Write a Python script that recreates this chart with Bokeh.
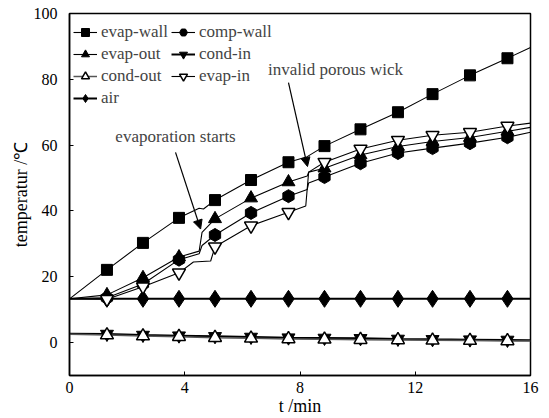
from math import pi

from bokeh.embed import file_html
from bokeh.models import Arrow, Label, Legend, LegendItem, NormalHead, Range1d, FixedTicker, Title
from bokeh.plotting import figure
from bokeh.resources import INLINE

# Sampling instants of the markers (min)
t_mark = [1.3, 2.55, 3.8, 5.05, 6.3, 7.6, 8.85, 10.1, 11.4, 12.6, 13.9, 15.2]

# Marker readings (deg C)
evap_wall = [22.1, 30.3, 37.9, 43.3, 49.4, 54.8, 59.7, 64.8, 70.0, 75.5, 81.2, 86.4]
evap_out = [14.5, 19.7, 26.0, 37.6, 43.9, 48.8, 53.0, 57.0, 59.6, 61.1, 62.3, 64.2]
comp_wall = [13.6, 17.8, 25.2, 32.7, 39.4, 44.5, 50.3, 54.5, 57.6, 59.1, 60.6, 62.4]
evap_in = [13.2, 17.0, 21.2, 29.1, 35.5, 39.6, 54.8, 58.8, 61.5, 63.0, 63.9, 65.8]
cond_in = [2.6, 2.3, 2.1, 1.9, 1.7, 1.5, 1.4, 1.3, 1.1, 1.0, 0.9, 0.8]
cond_out = [2.3, 2.0, 1.8, 1.5, 1.3, 1.1, 1.0, 0.9, 0.8, 0.7, 0.6, 0.5]
air = [13.3, 13.3, 13.3, 13.3, 13.3, 13.3, 13.3, 13.3, 13.3, 13.3, 13.3, 13.3]

# Continuous recordings (time, temperature) between the markers
wall_t = [0, 1.3, 2.55, 3.8, 4.5, 4.65, 5.05, 6.3, 7.6, 8.25, 8.85, 10.1, 11.4, 12.6, 13.9, 15.2, 16]
wall_v = [13.3, 22.1, 30.3, 37.9, 40.8, 40.6, 43.3, 49.4, 54.8, 56.5, 59.7, 64.8, 70.0, 75.5, 81.2, 86.4, 89.7]

out_t = [0, 1.3, 2.55, 3.8, 4.5, 4.6, 5.05, 6.3, 7.6, 8.25, 8.3, 8.85, 10.1, 11.4, 12.6, 13.9, 15.2, 16]
out_v = [13.3, 14.5, 19.7, 26.0, 27.8, 33.5, 37.6, 43.9, 48.8, 50.6, 51.8, 53.0, 57.0, 59.6, 61.1, 62.3, 64.2, 65.4]

comp_t = [0, 1.3, 2.55, 3.8, 4.5, 4.6, 5.05, 6.3, 7.6, 8.25, 8.3, 8.85, 10.1, 11.4, 12.6, 13.9, 15.2, 16]
comp_v = [13.3, 13.6, 17.8, 25.2, 27.0, 29.5, 32.7, 39.4, 44.5, 46.5, 48.5, 50.3, 54.5, 57.6, 59.1, 60.6, 62.4, 63.9]

in_t = [0, 1.3, 2.55, 3.8, 4.3, 4.9, 5.05, 6.3, 7.6, 8.2, 8.3, 8.85, 10.1, 11.4, 12.6, 13.9, 15.2, 16]
in_v = [13.3, 13.2, 17.0, 21.2, 24.5, 24.8, 29.1, 35.5, 39.6, 41.5, 51.8, 54.8, 58.8, 61.5, 63.0, 63.9, 65.8, 66.7]

cin_t = [0] + t_mark + [16]
cin_v = [2.7] + cond_in + [0.7]
cout_t = [0] + t_mark + [16]
cout_v = [2.5] + cond_out + [0.5]
air_t = [0] + t_mark + [16]
air_v = [13.3] + air + [13.3]

x_ticks = [0, 4, 8, 12, 16]
y_ticks = [0, 20, 40, 60, 80, 100]

SERIF = "Liberation Serif"

p = figure(width=549, height=418, output_backend="svg", toolbar_location=None,
           x_range=Range1d(0, 16), y_range=Range1d(-10, 100),
           min_border_left=69, min_border_right=19, min_border_top=13,
           min_border_bottom=42)
p.background_fill_color = "white"
p.border_fill_color = "white"
p.outline_line_color = "black"
p.outline_line_width = 1.5
p.grid.visible = False

for ax in (p.xaxis[0], p.yaxis[0]):
    ax.axis_line_color = "black"
    ax.axis_line_width = 1.5
    ax.major_tick_in = 4
    ax.major_tick_out = 0
    ax.minor_tick_line_color = None
    ax.major_label_text_font = SERIF
    ax.major_label_text_font_size = "16px"
    ax.major_label_text_color = "black"
p.xaxis.ticker = FixedTicker(ticks=x_ticks)
p.yaxis.ticker = FixedTicker(ticks=y_ticks)
p.xaxis.major_label_standoff = 6
p.yaxis.major_label_standoff = 12

p.xaxis.axis_label = "t /min"
p.xaxis.axis_label_text_font = SERIF
p.xaxis.axis_label_text_font_size = "18px"
p.xaxis.axis_label_text_font_style = "normal"
p.xaxis.axis_label_text_color = "black"
p.xaxis.axis_label_standoff = 0

# Vertical title beside the temperature axis
p.add_layout(Title(text="temperatur /℃", align="center", offset=0,
                   text_font=SERIF, text_font_size="18px", text_font_style="normal",
                   text_color="black", standoff=0), "left")

# Curves
lw = 1.1
r_wall_l = p.line(wall_t, wall_v, line_color="black", line_width=lw)
r_out_l = p.line(out_t, out_v, line_color="black", line_width=lw)
r_comp_l = p.line(comp_t, comp_v, line_color="black", line_width=lw)
r_in_l = p.line(in_t, in_v, line_color="black", line_width=lw)
r_cin_l = p.line(cin_t, cin_v, line_color="black", line_width=2)
r_cout_l = p.line(cout_t, cout_v, line_color="#555555", line_width=1.5)
r_air_l = p.line(air_t, air_v, line_color="black", line_width=2)

# Markers
r_air = p.scatter(t_mark, air, marker="diamond", size=17, fill_color="black", line_color="black")
r_wall = p.scatter(t_mark, evap_wall, marker="square", size=11, fill_color="black", line_color="black")
r_comp = p.scatter(t_mark, comp_wall, marker="hex", size=13, fill_color="black", line_color="black", angle=pi / 6)
r_out = p.scatter(t_mark, evap_out, marker="triangle", size=13, fill_color="black", line_color="black")
r_in = p.scatter(t_mark, evap_in, marker="inverted_triangle", size=13, fill_color="white", line_color="black", line_width=1.5)
r_cin = p.scatter(t_mark, cond_in, marker="inverted_triangle", size=13, fill_color="black", line_color="black")
r_cout = p.scatter(t_mark, cond_out, marker="triangle", size=13, fill_color="white", line_color="black", line_width=1.5)

def legend(items, loc):
    lg = Legend(items=items, location=loc, orientation="vertical",
                label_text_font=SERIF, label_text_font_size="17px",
                label_height=20, glyph_height=20, glyph_width=24, label_standoff=4,
                spacing=2, padding=0, margin=0,
                border_line_color=None, background_fill_alpha=0)
    return lg

col1 = legend([
    LegendItem(label="evap-wall", renderers=[r_wall_l, r_wall]),
    LegendItem(label="evap-out", renderers=[r_out_l, r_out]),
    LegendItem(label="cond-out", renderers=[r_cout_l, r_cout]),
    LegendItem(label="air", renderers=[r_air_l, r_air]),
], (4, 267))
col2 = legend([
    LegendItem(label="comp-wall", renderers=[r_comp_l, r_comp]),
    LegendItem(label="cond-in", renderers=[r_cin_l, r_cin]),
    LegendItem(label="evap-in", renderers=[r_in_l, r_in]),
], (102, 289))
p.add_layout(col1)
p.add_layout(col2)

# Annotations
p.add_layout(Label(x=3.68, y=62.5, text="evaporation starts", text_font=SERIF,
                   text_font_size="17px", text_align="center", text_baseline="middle"))
p.add_layout(Arrow(x_start=3.68, y_start=57.8, x_end=4.55, y_end=34.5,
                   line_color="black", line_width=1.2,
                   end=NormalHead(size=9, fill_color="black", line_color="black")))
p.add_layout(Label(x=9.23, y=83.0, text="invalid porous wick", text_font=SERIF,
                   text_font_size="17px", text_align="center", text_baseline="middle"))
p.add_layout(Arrow(x_start=7.6, y_start=79.0, x_end=8.26, y_end=53.5,
                   line_color="black", line_width=1.2,
                   end=NormalHead(size=9, fill_color="black", line_color="black")))

open("out.html", "w").write(file_html(p, INLINE))
